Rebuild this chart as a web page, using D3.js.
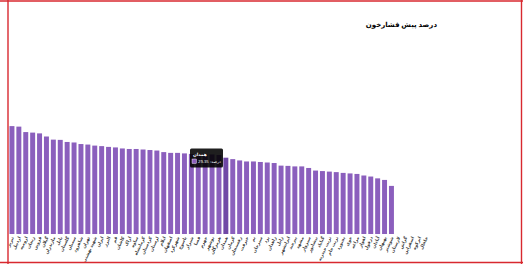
<!DOCTYPE html>
<html>
<head>
<meta charset="utf-8">
<script src="https://cdn.jsdelivr.net/npm/d3@7/dist/d3.min.js"></script>
<style>
  html, body { margin: 0; padding: 0; background: #fff; }
  svg { display: block; }
</style>
</head>
<body>
<svg id="chart" width="523" height="264"></svg>
<script>
const title = "درصد پیش فشارخون";
const seriesLabel = "درصد";
const categories = [
  "تبریز","اردبیل","ارومیه","زنجان","قزوین","گیلان","مازندران","بابل","گلستان","سمنان",
  "شاهرود","تهران","شهید بهشتی","ایران","البرز","قم","کاشان","اراک","ساوه","کرمانشاه",
  "کردستان","لرستان","ایلام","اصفهان","شهرکرد","یاسوج","شیراز","فسا","جهرم","بوشهر",
  "هرمزگان","همدان","کرمان","رفسنجان","جیرفت","بم","سیرجان","یزد","زاهدان","زابل",
  "ایرانشهر","بیرجند","مشهد","سبزوار","نیشابور","گناباد","تربت حیدریه","تربت جام","بجنورد","خوی",
  "مراغه","اهواز","دزفول","آبادان","بهبهان","شوشتر","لارستان","گراش","اسفراین","ابرکوه","خلخال"
];
const values = [
  41.5,41.3,39.2,39.0,38.7,37.5,36.3,36.2,35.4,35.2,
  34.6,34.4,34.0,33.8,33.5,33.3,32.9,32.7,32.7,32.5,
  32.3,32.1,31.5,31.2,31.2,31.0,30.8,30.8,30.6,30.6,
  30.4,29.35,28.8,28.3,27.9,27.9,27.7,27.5,27.3,26.3,
  26.2,26.0,26.0,25.4,24.4,24.2,24.0,23.8,23.5,23.3,
  23.1,22.5,22.1,21.4,20.8,18.5,null,null,null,null,null
];
const hoverIndex = 31;

const svg = d3.select("#chart");

const x = d3.scaleBand().domain(categories).range([8.5, 429.4]).paddingInner(0.28).paddingOuter(0.14);
const y = d3.scaleLinear().domain([0, 60]).range([234, 78]);

const data = categories.map((c, i) => ({ c, v: values[i], i }));

svg.append("g").selectAll("rect")
  .data(data.filter(d => d.v != null))
  .join("rect")
  .attr("x", d => x(d.c))
  .attr("y", d => y(d.v))
  .attr("width", x.bandwidth())
  .attr("height", d => y(0) - y(d.v))
  .attr("fill", d => d.i === hoverIndex ? "#7048a6" : "#8b5fbd");

const axis = svg.append("g")
  .attr("transform", `translate(0,${y(0) + 2.5})`)
  .call(d3.axisBottom(x).tickSize(0).tickPadding(1));
axis.select(".domain").remove();
axis.selectAll("text")
  .attr("font-family", "'Noto Sans', 'DejaVu Sans', sans-serif")
  .attr("font-size", 4.4)
  .attr("font-weight", "bold")
  .attr("fill", "#3a3a3a")
  .attr("text-anchor", "end")
  .attr("dy", "0.3em")
  .attr("transform", "rotate(-65)");

svg.append("text")
  .attr("x", 437).attr("y", 26.5)
  .attr("text-anchor", "end")
  .attr("font-family", "'Noto Sans', 'DejaVu Sans', sans-serif")
  .attr("font-weight", "bold")
  .attr("font-size", 7)
  .attr("fill", "#000")
  .text(title);

// tooltip
const tx = 190, ty = 148.5;
const tip = svg.append("g").attr("transform", `translate(${tx},${ty})`);
tip.append("rect").attr("width", 33).attr("height", 19).attr("rx", 1.5)
  .attr("fill", "rgba(0,0,0,0.88)");
tip.append("text").attr("x", 3).attr("y", 7.3)
  .attr("font-family", "'Noto Sans', 'DejaVu Sans', sans-serif")
  .attr("font-weight", "bold").attr("font-size", 4.4).attr("fill", "#fff")
  .text(categories[hoverIndex]);
tip.append("rect").attr("x", 2).attr("y", 10.5).attr("width", 4.5).attr("height", 4.5)
  .attr("fill", "#8b5fbd").attr("stroke", "#fff").attr("stroke-width", 0.4);
tip.append("text").attr("x", 8).attr("y", 14.6)
  .attr("font-family", "'Noto Sans', 'DejaVu Sans', sans-serif")
  .attr("font-size", 4.2).attr("fill", "#fff")
  .text(values[hoverIndex].toFixed(2));
tip.append("text").attr("x", 31).attr("y", 14.6)
  .attr("text-anchor", "end")
  .attr("font-family", "'Noto Sans', 'DejaVu Sans', sans-serif")
  .attr("font-size", 4.2).attr("fill", "#fff")
  .text(":" + seriesLabel);

// frame
const red = "#d8292f";
svg.append("line").attr("x1", 0).attr("x2", 523).attr("y1", 1).attr("y2", 1).attr("stroke", red).attr("stroke-width", 1.6);
svg.append("line").attr("x1", 0).attr("x2", 523).attr("y1", 262.5).attr("y2", 262.5).attr("stroke", red).attr("stroke-width", 1.6);
svg.append("line").attr("x1", 8).attr("x2", 8).attr("y1", 0).attr("y2", 264).attr("stroke", red).attr("stroke-width", 1.4);
svg.append("line").attr("x1", 521.5).attr("x2", 521.5).attr("y1", 0).attr("y2", 264).attr("stroke", red).attr("stroke-width", 1.4);
</script>
</body>
</html>
